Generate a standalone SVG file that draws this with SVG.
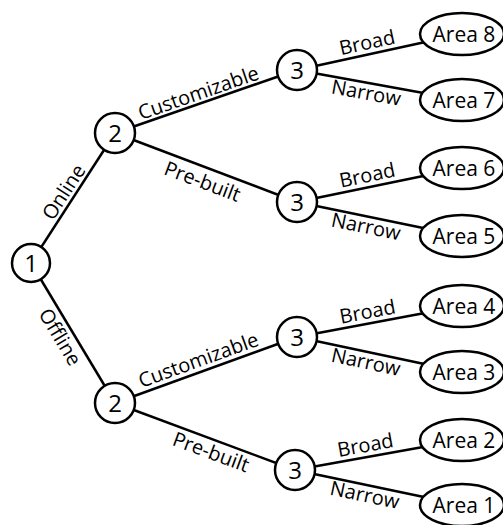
<svg xmlns="http://www.w3.org/2000/svg" width="503" height="525" viewBox="0 0 503 525">
  <style>
    .edge { stroke: #000; stroke-width: 2.5; fill: none; }
    .node { fill: #fff; stroke: #000; stroke-width: 2.5; }
    .num { font-family: "Open Sans", "Noto Sans", sans-serif; font-size: 24px; text-anchor: middle; fill: #000; }
    .leaf { font-family: "Open Sans", "Noto Sans", sans-serif; font-size: 21px; text-anchor: middle; fill: #000; }
    .lbl { font-family: "Open Sans", "Noto Sans", sans-serif; font-size: 20px; text-anchor: middle; fill: #000; }
  </style>
  <rect width="503" height="525" fill="#fff"/>

  <!-- connectors: drawn centre to centre, nodes cover the ends -->
  <g id="connectors">
    <line class="edge" x1="31" y1="263" x2="115" y2="133"/>
    <line class="edge" x1="31" y1="263" x2="115" y2="403"/>
    <line class="edge" x1="115" y1="133" x2="297" y2="70"/>
    <line class="edge" x1="115" y1="133" x2="297" y2="202"/>
    <line class="edge" x1="115" y1="403" x2="297" y2="337"/>
    <line class="edge" x1="115" y1="403" x2="295" y2="470"/>
    <line class="edge" x1="297" y1="70" x2="462" y2="34"/>
    <line class="edge" x1="297" y1="70" x2="462" y2="100"/>
    <line class="edge" x1="297" y1="202" x2="462" y2="168"/>
    <line class="edge" x1="297" y1="202" x2="462" y2="236"/>
    <line class="edge" x1="297" y1="337" x2="462" y2="306"/>
    <line class="edge" x1="297" y1="337" x2="462" y2="372"/>
    <line class="edge" x1="295" y1="470" x2="462" y2="440"/>
    <line class="edge" x1="295" y1="470" x2="462" y2="505"/>

    <!-- edge labels, rotated along their lines -->
    <text class="lbl" transform="translate(69.6,195.8) rotate(-57.1)">Online</text>
    <text class="lbl" transform="translate(54.2,340.5) rotate(59.04)">Offline</text>
    <text class="lbl" transform="translate(200.7,99.4) rotate(-19.09)">Customizable</text>
    <text class="lbl" transform="translate(200,188) rotate(20.76)">Pre-built</text>
    <text class="lbl" transform="translate(200.7,366.6) rotate(-19.93)">Customizable</text>
    <text class="lbl" transform="translate(208.6,458.6) rotate(20.41)">Pre-built</text>
    <text class="lbl" transform="translate(368.5,49.3) rotate(-12.31)">Broad</text>
    <text class="lbl" transform="translate(365,99.6) rotate(10.30)">Narrow</text>
    <text class="lbl" transform="translate(368.6,182.1) rotate(-11.64)">Broad</text>
    <text class="lbl" transform="translate(364.6,233.2) rotate(11.64)">Narrow</text>
    <text class="lbl" transform="translate(368.7,318.5) rotate(-10.64)">Broad</text>
    <text class="lbl" transform="translate(364.5,368.7) rotate(11.98)">Narrow</text>
    <text class="lbl" transform="translate(366.6,451.9) rotate(-10.18)">Broad</text>
    <text class="lbl" transform="translate(363.3,501.7) rotate(11.84)">Narrow</text>
  </g>

  <!-- decision nodes -->
  <g id="n1"><circle class="node" cx="31" cy="263" r="19"/><text class="num" x="31" y="271.5">1</text></g>
  <g id="n2-online"><circle class="node" cx="115" cy="133" r="20"/><text class="num" x="115" y="141.5">2</text></g>
  <g id="n2-offline"><circle class="node" cx="115" cy="403" r="20"/><text class="num" x="115" y="411.5">2</text></g>
  <g id="n3-a"><circle class="node" cx="297" cy="70" r="20"/><text class="num" x="297" y="78.5">3</text></g>
  <g id="n3-b"><circle class="node" cx="297" cy="202" r="20"/><text class="num" x="297" y="210.5">3</text></g>
  <g id="n3-c"><circle class="node" cx="297" cy="337" r="20"/><text class="num" x="297" y="345.5">3</text></g>
  <g id="n3-d"><circle class="node" cx="295" cy="470" r="20"/><text class="num" x="295" y="478.5">3</text></g>

  <!-- outcome areas -->
  <g id="area8"><ellipse class="node" cx="462" cy="34" rx="42" ry="21"/><text class="leaf" x="464" y="41.5">Area 8</text></g>
  <g id="area7"><ellipse class="node" cx="462" cy="100" rx="42" ry="21"/><text class="leaf" x="464" y="107.5">Area 7</text></g>
  <g id="area6"><ellipse class="node" cx="462" cy="168" rx="42" ry="21"/><text class="leaf" x="464" y="175.5">Area 6</text></g>
  <g id="area5"><ellipse class="node" cx="462" cy="236" rx="42" ry="21"/><text class="leaf" x="464" y="243.5">Area 5</text></g>
  <g id="area4"><ellipse class="node" cx="462" cy="306" rx="42" ry="21"/><text class="leaf" x="464" y="313.5">Area 4</text></g>
  <g id="area3"><ellipse class="node" cx="462" cy="372" rx="42" ry="21"/><text class="leaf" x="464" y="379.5">Area 3</text></g>
  <g id="area2"><ellipse class="node" cx="462" cy="440" rx="42" ry="21"/><text class="leaf" x="464" y="447.5">Area 2</text></g>
  <g id="area1"><ellipse class="node" cx="462" cy="505" rx="42" ry="21"/><text class="leaf" x="464" y="512.5">Area 1</text></g>
</svg>
